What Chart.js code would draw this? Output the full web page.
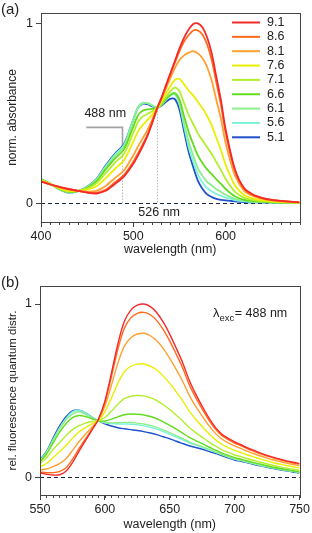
<!DOCTYPE html>
<html>
<head>
<meta charset="utf-8">
<script src="https://cdn.jsdelivr.net/npm/chart.js@4.4.1/dist/chart.umd.min.js"></script>
<style>
  html, body { margin: 0; padding: 0; background: #fff; }
  canvas { display: block; }
</style>
</head>
<body>
<canvas id="absChart" width="312" height="262"></canvas>
<canvas id="fluoChart" width="312" height="271"></canvas>
<script>
const phLabels = ['9.1', '8.6', '8.1', '7.6', '7.1', '6.6', '6.1', '5.6', '5.1'];
const phColors = ['#f42a2a', '#ff6a1c', '#ffa030', '#eaee00', '#b2ee2c', '#62dc1e', '#8cee8c', '#7ff2dc', '#2050cc'];

// (a) absorbance
const absWavelength = [400, 410, 420, 430, 440, 450, 460, 470, 480, 490,
  500, 505, 510, 515, 520, 526, 530, 535, 540, 545, 550, 555, 560, 565, 570, 575, 580, 585, 590, 595, 600,
  610, 620, 630, 640, 650, 660, 680];
const abs91 = [0.122, 0.105, 0.092, 0.080, 0.070, 0.060, 0.055, 0.070, 0.108, 0.150,
  0.220, 0.265, 0.315, 0.370, 0.440, 0.530, 0.580, 0.650, 0.720, 0.790, 0.860, 0.920, 0.965, 0.995, 0.998, 0.975, 0.920, 0.830, 0.700, 0.570, 0.410,
  0.190, 0.085, 0.048, 0.030, 0.020, 0.014, 0.006];
const abs86 = [0.123, 0.105, 0.091, 0.079, 0.070, 0.061, 0.059, 0.076, 0.116, 0.158,
  0.231, 0.277, 0.326, 0.378, 0.444, 0.530, 0.578, 0.646, 0.714, 0.780, 0.845, 0.897, 0.934, 0.959, 0.959, 0.935, 0.881, 0.794, 0.670, 0.545, 0.392,
  0.182, 0.082, 0.046, 0.029, 0.019, 0.014, 0.006];
const abs81 = [0.124, 0.106, 0.089, 0.076, 0.070, 0.066, 0.070, 0.097, 0.140, 0.184,
  0.267, 0.315, 0.360, 0.404, 0.459, 0.530, 0.572, 0.633, 0.693, 0.750, 0.795, 0.821, 0.836, 0.844, 0.832, 0.805, 0.755, 0.679, 0.572, 0.466, 0.335,
  0.156, 0.070, 0.040, 0.025, 0.017, 0.012, 0.005];
const abs76 = [0.129, 0.108, 0.085, 0.070, 0.069, 0.076, 0.095, 0.140, 0.192, 0.240,
  0.343, 0.398, 0.434, 0.460, 0.490, 0.530, 0.560, 0.606, 0.650, 0.684, 0.690, 0.660, 0.625, 0.598, 0.562, 0.528, 0.485, 0.433, 0.363, 0.295, 0.214,
  0.101, 0.047, 0.027, 0.017, 0.012, 0.009, 0.004];
const abs71 = [0.131, 0.109, 0.082, 0.066, 0.069, 0.082, 0.111, 0.168, 0.225, 0.276,
  0.392, 0.451, 0.481, 0.496, 0.510, 0.530, 0.552, 0.588, 0.622, 0.642, 0.622, 0.556, 0.489, 0.439, 0.387, 0.349, 0.311, 0.274, 0.228, 0.185, 0.135,
  0.065, 0.031, 0.019, 0.013, 0.009, 0.006, 0.003];
const abs66 = [0.133, 0.109, 0.080, 0.063, 0.068, 0.087, 0.122, 0.188, 0.248, 0.301,
  0.426, 0.488, 0.514, 0.521, 0.524, 0.530, 0.546, 0.576, 0.602, 0.612, 0.574, 0.483, 0.394, 0.327, 0.265, 0.223, 0.189, 0.162, 0.133, 0.108, 0.080,
  0.040, 0.020, 0.013, 0.009, 0.007, 0.005, 0.003];
const abs61 = [0.134, 0.110, 0.079, 0.062, 0.068, 0.089, 0.129, 0.199, 0.262, 0.316,
  0.460, 0.530, 0.555, 0.556, 0.545, 0.530, 0.543, 0.572, 0.600, 0.608, 0.560, 0.445, 0.340, 0.264, 0.195, 0.152, 0.120, 0.099, 0.079, 0.064, 0.048,
  0.026, 0.014, 0.009, 0.007, 0.005, 0.004, 0.002];
const abs56 = [0.135, 0.110, 0.078, 0.061, 0.068, 0.091, 0.132, 0.205, 0.270, 0.325,
  0.468, 0.535, 0.558, 0.556, 0.545, 0.530, 0.545, 0.574, 0.598, 0.605, 0.548, 0.428, 0.312, 0.230, 0.160, 0.115, 0.085, 0.067, 0.052, 0.042, 0.033,
  0.019, 0.011, 0.008, 0.006, 0.005, 0.004, 0.002];
const abs51 = [0.135, 0.110, 0.078, 0.060, 0.068, 0.092, 0.135, 0.210, 0.275, 0.330,
  0.465, 0.530, 0.552, 0.550, 0.540, 0.530, 0.540, 0.562, 0.580, 0.578, 0.520, 0.400, 0.285, 0.200, 0.125, 0.080, 0.050, 0.035, 0.025, 0.020, 0.017,
  0.012, 0.008, 0.006, 0.005, 0.004, 0.003, 0.002];
const absTicksX = [400, 500, 600];

// (b) fluorescence, excitation 488 nm
const fluoWavelength = [550, 555, 560, 565, 570, 575, 580, 585, 590, 595, 600, 605, 610, 615, 620, 625, 630, 635, 640, 645,
  650, 655, 660, 665, 670, 675, 680, 685, 690, 695, 700, 705, 710, 715, 720, 725, 730, 735, 740, 745, 750];
const fluo91 = [0.025, 0.018, 0.013, 0.015, 0.035, 0.085, 0.150, 0.212, 0.272, 0.335, 0.440, 0.600, 0.770, 0.900, 0.965, 0.993, 1.000, 0.985, 0.950, 0.895,
  0.825, 0.745, 0.660, 0.560, 0.480, 0.410, 0.345, 0.290, 0.250, 0.225, 0.205, 0.188, 0.170, 0.155, 0.140, 0.127, 0.115, 0.105, 0.095, 0.087, 0.080];
const fluo86 = [0.030, 0.027, 0.027, 0.033, 0.055, 0.104, 0.165, 0.222, 0.277, 0.334, 0.431, 0.580, 0.739, 0.860, 0.920, 0.946, 0.952, 0.938, 0.904, 0.852,
  0.786, 0.710, 0.630, 0.535, 0.460, 0.394, 0.332, 0.280, 0.242, 0.218, 0.198, 0.182, 0.164, 0.150, 0.135, 0.123, 0.111, 0.101, 0.091, 0.083, 0.076];
const fluo81 = [0.042, 0.048, 0.062, 0.079, 0.107, 0.154, 0.205, 0.249, 0.289, 0.333, 0.410, 0.530, 0.659, 0.757, 0.806, 0.827, 0.831, 0.817, 0.788, 0.743,
  0.686, 0.621, 0.553, 0.473, 0.409, 0.353, 0.300, 0.255, 0.221, 0.199, 0.181, 0.166, 0.150, 0.136, 0.123, 0.111, 0.100, 0.091, 0.082, 0.074, 0.067];
const fluo76 = [0.060, 0.080, 0.113, 0.147, 0.183, 0.225, 0.262, 0.287, 0.308, 0.330, 0.378, 0.457, 0.543, 0.609, 0.641, 0.653, 0.654, 0.642, 0.619, 0.584,
  0.542, 0.493, 0.441, 0.382, 0.335, 0.293, 0.253, 0.219, 0.191, 0.172, 0.156, 0.143, 0.129, 0.117, 0.105, 0.095, 0.084, 0.076, 0.068, 0.061, 0.054];
const fluo71 = [0.079, 0.113, 0.160, 0.200, 0.240, 0.275, 0.298, 0.313, 0.322, 0.328, 0.345, 0.381, 0.422, 0.454, 0.468, 0.472, 0.470, 0.460, 0.443, 0.419,
  0.391, 0.358, 0.325, 0.288, 0.258, 0.231, 0.205, 0.181, 0.160, 0.144, 0.129, 0.119, 0.107, 0.097, 0.087, 0.077, 0.068, 0.060, 0.053, 0.047, 0.040];
const fluo66 = [0.090, 0.133, 0.197, 0.259, 0.309, 0.344, 0.357, 0.351, 0.338, 0.326, 0.325, 0.336, 0.349, 0.361, 0.365, 0.364, 0.360, 0.351, 0.338, 0.320,
  0.300, 0.278, 0.255, 0.231, 0.212, 0.194, 0.175, 0.158, 0.141, 0.127, 0.114, 0.104, 0.094, 0.085, 0.076, 0.067, 0.058, 0.051, 0.045, 0.038, 0.032];
const fluo61 = [0.095, 0.142, 0.212, 0.278, 0.331, 0.365, 0.378, 0.364, 0.343, 0.326, 0.316, 0.314, 0.315, 0.317, 0.316, 0.313, 0.308, 0.300, 0.288, 0.274,
  0.258, 0.240, 0.223, 0.205, 0.190, 0.177, 0.162, 0.147, 0.133, 0.119, 0.106, 0.098, 0.088, 0.079, 0.070, 0.062, 0.054, 0.047, 0.040, 0.034, 0.028];
const fluo56 = [0.097, 0.145, 0.216, 0.284, 0.338, 0.378, 0.388, 0.372, 0.347, 0.326, 0.314, 0.310, 0.308, 0.308, 0.306, 0.303, 0.297, 0.289, 0.278, 0.264,
  0.249, 0.232, 0.216, 0.199, 0.186, 0.173, 0.159, 0.145, 0.131, 0.117, 0.105, 0.096, 0.087, 0.078, 0.069, 0.061, 0.053, 0.046, 0.040, 0.034, 0.027];
const fluo51 = [0.100, 0.150, 0.225, 0.295, 0.350, 0.383, 0.388, 0.372, 0.348, 0.325, 0.308, 0.296, 0.286, 0.280, 0.275, 0.270, 0.264, 0.256, 0.246, 0.234,
  0.222, 0.208, 0.195, 0.182, 0.172, 0.162, 0.150, 0.138, 0.125, 0.112, 0.100, 0.092, 0.083, 0.074, 0.066, 0.058, 0.050, 0.043, 0.037, 0.031, 0.025];
const fluoTicksX = [550, 600, 650, 700, 750];

const FONT = "'Liberation Sans', Arial, sans-serif";
Chart.defaults.font.family = FONT;
Chart.defaults.color = '#222';

function makeDatasets(wl, series, width) {
  return series.map((vals, i) => ({
    label: phLabels[i],
    data: vals.map((v, j) => ({ x: wl[j], y: v })),
    borderColor: phColors[i],
    borderWidth: width,
    pointRadius: 0,
    tension: 0.3,
    fill: false,
  }));
}

// box, dashed zero line and minor x ticks
function framePlugin(minorStep) {
  return {
    id: 'frame',
    beforeDatasetsDraw(chart) {
      const { ctx, chartArea: a, scales: { y } } = chart;
      const y0 = Math.round(y.getPixelForValue(0)) + 0.5;
      ctx.save();
      ctx.setLineDash([4, 3]);
      ctx.strokeStyle = '#1c2540';
      ctx.lineWidth = 1.2;
      ctx.beginPath();
      ctx.moveTo(a.left, y0);
      ctx.lineTo(a.right, y0);
      ctx.stroke();
      ctx.restore();
    },
    afterDraw(chart) {
      const { ctx, chartArea: a, scales: { x } } = chart;
      ctx.save();
      ctx.strokeStyle = '#444';
      ctx.lineWidth = 1;
      ctx.strokeRect(Math.round(a.left) + 0.5, Math.round(a.top) + 0.5,
        Math.round(a.right - a.left), Math.round(a.bottom - a.top));
      ctx.beginPath();
      for (let v = x.min; v <= x.max; v += minorStep) {
        const px = Math.round(x.getPixelForValue(v)) + 0.5;
        ctx.moveTo(px, a.bottom);
        ctx.lineTo(px, a.bottom + 3);
      }
      ctx.stroke();
      ctx.restore();
    }
  };
}

function panelLabel(text, baseline) {
  return {
    id: 'panelLabel',
    afterDraw(chart) {
      const ctx = chart.ctx;
      ctx.save();
      ctx.font = `15px ${FONT}`;
      ctx.fillStyle = '#222';
      ctx.fillText(text, 1, baseline);
      ctx.restore();
    }
  };
}

const absLegend = {
  id: 'phLegend',
  afterDraw(chart) {
    const ctx = chart.ctx;
    ctx.save();
    ctx.font = `12.5px ${FONT}`;
    ctx.textBaseline = 'middle';
    chart.data.datasets.forEach((ds, i) => {
      const yy = 22.5 + i * 14.35;
      ctx.strokeStyle = ds.borderColor;
      ctx.lineWidth = 2;
      ctx.beginPath();
      ctx.moveTo(232, yy);
      ctx.lineTo(260, yy);
      ctx.stroke();
      ctx.fillStyle = '#222';
      ctx.fillText(ds.label, 267, yy);
    });
    ctx.restore();
  }
};

const absMarkers = {
  id: 'absMarkers',
  beforeDatasetsDraw(chart) {
    const { ctx, scales: { x, y } } = chart;
    const x488 = Math.round(x.getPixelForValue(488)) + 0.5;
    const x526 = Math.round(x.getPixelForValue(526)) + 0.5;
    const yTop = y.getPixelForValue(0.422);
    ctx.save();
    ctx.strokeStyle = '#a4a4a4';
    ctx.lineWidth = 1.6;
    ctx.beginPath();
    ctx.moveTo(x.getPixelForValue(449), yTop);
    ctx.lineTo(x488, yTop);
    ctx.lineTo(x488, y.getPixelForValue(0.31));
    ctx.stroke();
    ctx.strokeStyle = '#b8b8b8';
    ctx.lineWidth = 1;
    ctx.setLineDash([1.5, 1.5]);
    ctx.beginPath();
    ctx.moveTo(x488, y.getPixelForValue(0.31));
    ctx.lineTo(x488, y.getPixelForValue(0));
    ctx.moveTo(x526, y.getPixelForValue(0.53));
    ctx.lineTo(x526, y.getPixelForValue(0));
    ctx.stroke();
    ctx.restore();
  },
  afterDraw(chart) {
    const { ctx, scales: { x, y } } = chart;
    ctx.save();
    ctx.font = `12.5px ${FONT}`;
    ctx.fillStyle = '#222';
    ctx.textBaseline = 'middle';
    ctx.textAlign = 'left';
    ctx.fillText('488 nm', x.getPixelForValue(447), y.getPixelForValue(0.50));
    ctx.textAlign = 'center';
    ctx.fillText('526 nm', x.getPixelForValue(528), y.getPixelForValue(-0.053));
    ctx.restore();
  }
};

const excLabel = {
  id: 'excLabel',
  afterDraw(chart) {
    const ctx = chart.ctx;
    let x0 = 213;
    const yb = 55;
    ctx.save();
    ctx.fillStyle = '#222';
    ctx.font = `13px ${FONT}`;
    ctx.fillText('λ', x0, yb);
    x0 += ctx.measureText('λ').width;
    ctx.font = `9.5px ${FONT}`;
    ctx.fillText('exc', x0, yb + 3.5);
    x0 += ctx.measureText('exc').width + 0.5;
    ctx.font = `12.5px ${FONT}`;
    ctx.fillText('= 488 nm', x0, yb);
    ctx.restore();
  }
};

function axes(cfg) {
  return {
    x: {
      type: 'linear',
      min: cfg.xMin,
      max: cfg.xMax,
      afterBuildTicks: s => { s.ticks = cfg.xTicks.map(v => ({ value: v })); },
      afterFit: s => { s.height = cfg.xHeight; },
      grid: { drawOnChartArea: false, tickLength: 5, color: '#444' },
      border: { color: '#444' },
      ticks: { font: { size: 12.5 }, color: '#222', padding: 2, maxRotation: 0 },
      title: { display: true, text: 'wavelength (nm)', font: { size: 12.5 }, color: '#222', padding: { top: 0, bottom: cfg.titlePad } },
    },
    y: {
      min: cfg.yMin,
      max: cfg.yMax,
      afterBuildTicks: s => { s.ticks = [{ value: 0 }, { value: 1 }]; },
      afterFit: s => { s.width = cfg.yWidth; },
      grid: { drawOnChartArea: false, tickLength: 5, color: '#444' },
      border: { color: '#444' },
      ticks: { font: { size: 12.5 }, color: '#222', padding: 3 },
      title: { display: true, text: cfg.yTitle, font: { size: cfg.yTitleSize }, color: '#222', padding: { top: 5.5, bottom: 0 } },
    },
  };
}

new Chart(document.getElementById('absChart'), {
  type: 'line',
  data: {
    datasets: makeDatasets(absWavelength, [abs91, abs86, abs81, abs76, abs71, abs66, abs61, abs56, abs51], 1.8),
  },
  options: {
    responsive: false,
    animation: false,
    layout: { padding: { top: 13, right: 12.5, left: 0, bottom: 0 } },
    plugins: { legend: { display: false }, tooltip: { enabled: false } },
    scales: axes({
      xMin: 400, xMax: 680, xTicks: absTicksX, xHeight: 40, titlePad: 5,
      yMin: -0.103, yMax: 1.056, yWidth: 41, yTitle: 'norm. absorbance', yTitleSize: 12,
    }),
  },
  plugins: [framePlugin(10), absMarkers, absLegend, panelLabel('(a)', 14)],
});

new Chart(document.getElementById('fluoChart'), {
  type: 'line',
  data: {
    datasets: makeDatasets(fluoWavelength, [fluo91, fluo86, fluo81, fluo76, fluo71, fluo66, fluo61, fluo56, fluo51], 1.4),
  },
  options: {
    responsive: false,
    animation: false,
    layout: { padding: { top: 24, right: 12, left: 0, bottom: 0 } },
    plugins: { legend: { display: false }, tooltip: { enabled: false } },
    scales: axes({
      xMin: 550, xMax: 750, xTicks: fluoTicksX, xHeight: 38, titlePad: 1,
      yMin: -0.102, yMax: 1.104, yWidth: 40, yTitle: 'rel. fluorescence quantum distr.', yTitleSize: 11.5,
    }),
  },
  plugins: [framePlugin(5), excLabel, panelLabel('(b)', 25)],
});
</script>
</body>
</html>
